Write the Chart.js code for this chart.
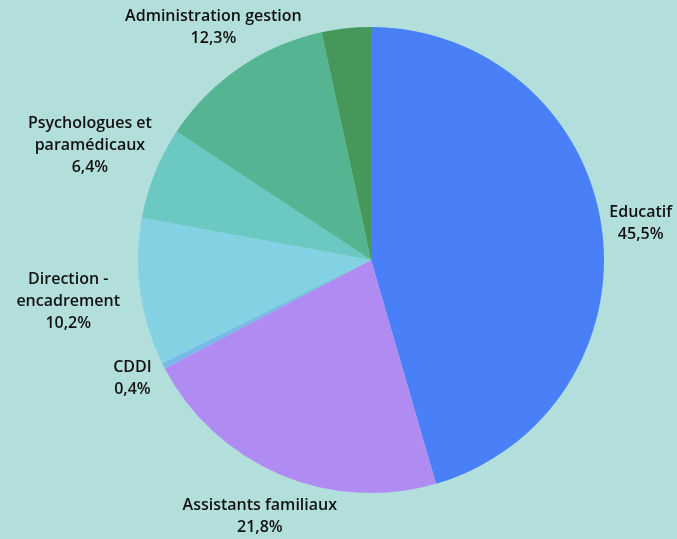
<!DOCTYPE html>
<html lang="fr">
  <head>
    <meta charset="UTF-8" />
    <title>Répartition par métier</title>
    <style>
      html,
      body {
        margin: 0;
        padding: 0;
        background-color: #b2dfdb;
      }
      .chart-box {
        width: 677px;
        height: 539px;
      }
    </style>
  </head>
  <body>
    <div class="chart-box">
      <canvas id="pieChart" width="677" height="539"></canvas>
    </div>

    <script src="https://cdn.jsdelivr.net/npm/chart.js"></script>
    <script>
      // Data (clockwise from the top)
      const categories = [
        ["Educatif"],
        ["Assistants familiaux"],
        ["CDDI"],
        ["Direction -", "encadrement"],
        ["Psychologues et", "paramédicaux"],
        ["Administration gestion"],
        null, // small dark slice, no label on the picture
      ];
      const shares = [45.5, 21.8, 0.4, 10.2, 6.4, 12.3, 3.4];
      const sliceColors = [
        "#4a80f7",
        "#b08cf2",
        "#79b9ea",
        "#82d2e4",
        "#6cc8c2",
        "#55b593",
        "#45985a",
      ];
      // label nudge from the rim point at each slice's middle angle
      const labelNudge = [
        [39, -4],
        [-20, 42],
        [-31, 13],
        [-72, 9],
        [-65, -27],
        [-26, -40],
        [0, 0],
      ];

      const fmt = (v) => v.toFixed(1).replace(".", ",") + "%";

      // draws the outside labels
      const outsideLabels = {
        id: "outsideLabels",
        afterDatasetsDraw(chart) {
          const ctx = chart.ctx;
          const meta = chart.getDatasetMeta(0);
          ctx.save();
          ctx.fillStyle = "#111";
          ctx.font = "600 16px 'Open Sans'";
          ctx.textAlign = "center";
          ctx.textBaseline = "middle";
          meta.data.forEach((arc, i) => {
            const name = categories[i];
            if (!name) return;
            const mid = (arc.startAngle + arc.endAngle) / 2;
            const x = arc.x + Math.cos(mid) * arc.outerRadius + labelNudge[i][0];
            const y = arc.y + Math.sin(mid) * arc.outerRadius + labelNudge[i][1];
            const lines = name.concat([fmt(shares[i])]);
            const lh = 22;
            const top = y - ((lines.length - 1) * lh) / 2;
            lines.forEach((line, k) => {
              ctx.fillText(line, x, top + k * lh);
            });
          });
          ctx.restore();
        },
      };

      new Chart(document.getElementById("pieChart").getContext("2d"), {
        type: "pie",
        data: {
          labels: categories.map((c) => (c ? c.join(" ") : "Autres")),
          datasets: [
            {
              data: shares,
              backgroundColor: sliceColors,
              borderWidth: 0,
            },
          ],
        },
        options: {
          responsive: false,
          animation: false,
          layout: {
            padding: { left: 138, right: 73, top: 27, bottom: 46 },
          },
          plugins: {
            legend: { display: false },
            tooltip: { enabled: false },
          },
        },
        plugins: [outsideLabels],
      });
    </script>
  </body>
</html>
